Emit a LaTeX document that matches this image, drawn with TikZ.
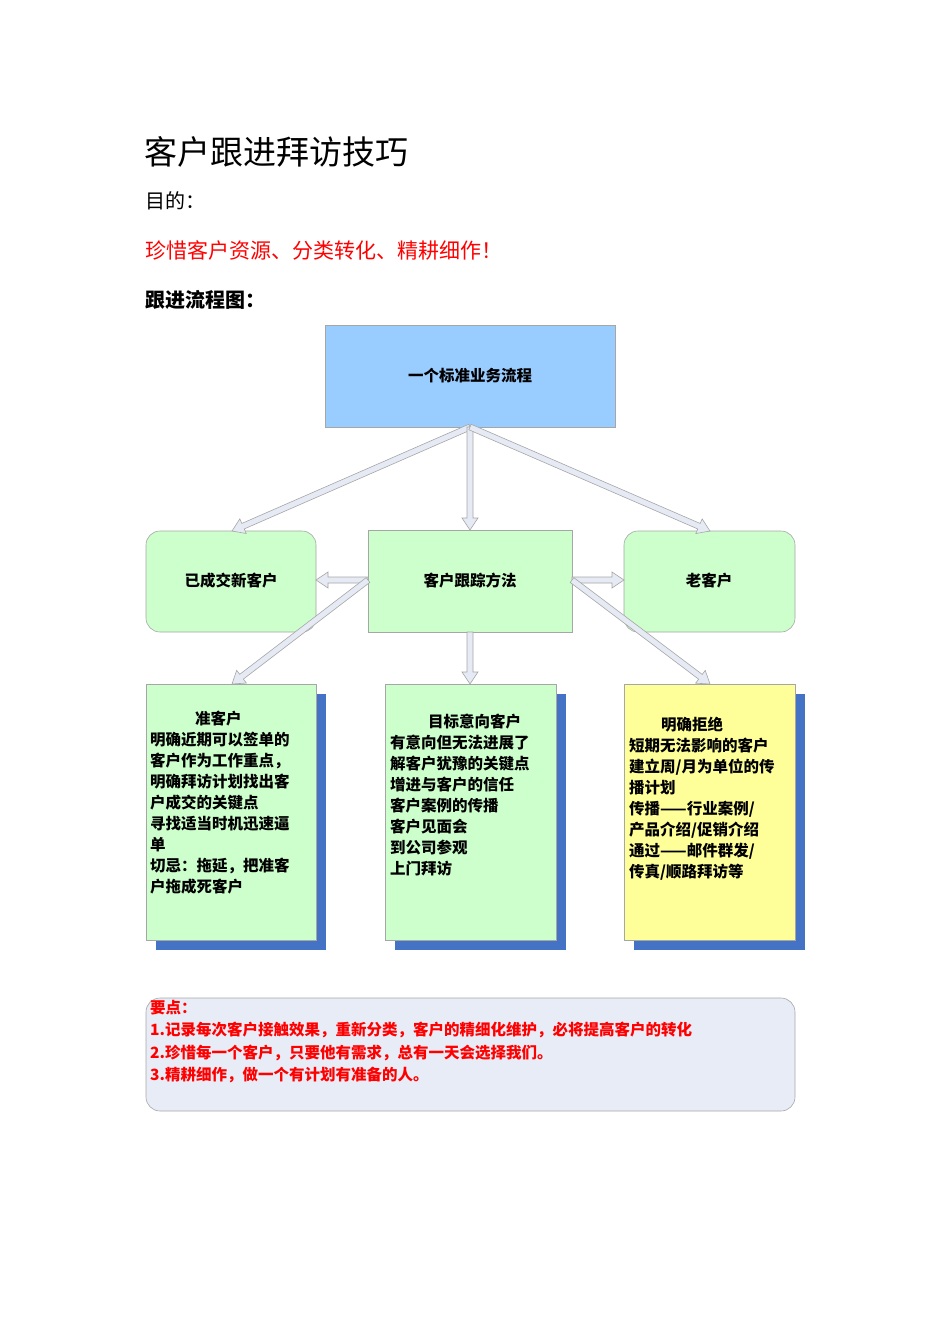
\documentclass[tikz,border=0pt]{standalone}
\usepackage{fontspec}
\setmainfont{Noto Sans CJK SC}
\newfontfamily\cjk{Noto Sans CJK SC}
\usetikzlibrary{calc}
\definecolor{topblue}{HTML}{99CCFF}
\definecolor{lgreen}{HTML}{CCFFCC}
\definecolor{lyellow}{HTML}{FFFF99}
\definecolor{shad}{HTML}{4472C4}
\definecolor{keyfill}{HTML}{E8ECF6}
\definecolor{arrfill}{HTML}{E6EAF4}
\newcommand\blockarrow[2]{%
  \path let \p1=(#1), \p2=(#2), \n1={atan2(\y2-\y1,\x2-\x1)}, \n2={veclen(\x2-\x1,\y2-\y1)} in
  [shift={(\x1,\y1)}, rotate=\n1]
  [draw=gray!70, fill=arrfill, line width=0.6pt]
  (0pt,3pt) -- (\n2-12pt,3pt) -- (\n2-12pt,8pt) -- (\n2,0pt) -- (\n2-12pt,-8pt) -- (\n2-12pt,-3pt) -- (0pt,-3pt) -- cycle;}
\tikzset{
  boxtxt/.style={font=\fontsize{15.5}{21}\selectfont\bfseries, inner sep=0pt},
  sq/.style={draw=gray!70, line width=0.6pt},
  rnd/.style={draw=gray!70, line width=0.6pt, rounded corners=14pt, fill=lgreen},
}
\begin{document}
\begin{tikzpicture}[x=1pt,y=-1pt]
\useasboundingbox (0,0) rectangle (950,1344);
\node[anchor=west, inner sep=0, font=\fontsize{33}{36}\selectfont] (title) at (144,152) {客户跟进拜访技巧};
\node[anchor=west, inner sep=0, font=\fontsize{20}{24}\selectfont] (goal) at (145,201) {目的：};
\node[anchor=west, inner sep=0, text=red, font=\fontsize{21}{24}\selectfont] (motto) at (145,250) {珍惜客户资源、分类转化、精耕细作！};
\node[anchor=west, inner sep=0, font=\fontsize{20}{24}\selectfont\bfseries] (flow) at (145,300) {跟进流程图：};
% top
\draw[sq, fill=topblue] (325,325) rectangle (615,427);
\node[boxtxt] (top) at (470,376) {一个标准业务流程};
% middle row
\draw[rnd] (146,531) rectangle (316,632);
\node[boxtxt] (done) at (231,581) {已成交新客户};
\draw[sq, fill=lgreen] (368,530) rectangle (572,632);
\node[boxtxt] (method) at (470,581) {客户跟踪方法};
\draw[rnd] (624,531) rectangle (795,632);
\node[boxtxt] (old) at (709,581) {老客户};
% bottom boxes
\fill[shad] (156,694) rectangle (326,950);
\draw[sq, fill=lgreen] (146,684) rectangle (316,940);
\node[boxtxt, anchor=north west, align=left] (prosp) at (150,711) {\hspace*{45pt}准客户\\明确近期可以签单的\\客户作为工作重点，\\明确拜访计划找出客\\户成交的关键点\\寻找适当时机迅速逼\\单\\切忌：拖延，把准客\\户拖成死客户};
\fill[shad] (395,694) rectangle (566,950);
\draw[sq, fill=lgreen] (385,684) rectangle (556,940);
\node[boxtxt, anchor=north west, align=left] (target) at (390,714) {\hspace*{38pt}目标意向客户\\有意向但无法进展了\\解客户犹豫的关键点\\增进与客户的信任\\客户案例的传播\\客户见面会\\到公司参观\\上门拜访};
\fill[shad] (634,694) rectangle (805,950);
\draw[sq, fill=lyellow] (624,684) rectangle (795,940);
\node[boxtxt, anchor=north west, align=left] (reject) at (629,717) {\hspace*{32pt}明确拒绝\\短期无法影响的客户\\建立周/月为单位的传\\播计划\\传播——行业案例/\\产品介绍/促销介绍\\通过——邮件群发/\\传真/顺路拜访等};
% arrow anchor coordinates
\coordinate (t0) at (470,427);
\coordinate (a1) at (232,531);
\coordinate (a2) at (470,530);
\coordinate (a3) at (710,531);
\coordinate (mL) at (368,580);
\coordinate (mR) at (572,580);
\coordinate (mB) at (470,632);
\coordinate (dR) at (316,580);
\coordinate (oL) at (624,580);
\coordinate (b1) at (232,684);
\coordinate (b2) at (470,684);
\coordinate (b3) at (710,684);
\blockarrow{t0}{a1}
\blockarrow{t0}{a2}
\blockarrow{t0}{a3}
\blockarrow{mL}{dR}
\blockarrow{mR}{oL}
\blockarrow{mL}{b1}
\blockarrow{mB}{b2}
\blockarrow{mR}{b3}
% key box
\draw[draw=gray!70, line width=0.6pt, rounded corners=14pt, fill=keyfill] (146,998) rectangle (795,1111);
\node[anchor=north west, align=left, text=red, inner sep=0pt, font=\fontsize{15.5}{22.5}\selectfont\bfseries] (key) at (150,1000) {要点：\\1.记录每次客户接触效果，重新分类，客户的精细化维护，必将提高客户的转化\\2.珍惜每一个客户，只要他有需求，总有一天会选择我们。\\3.精耕细作，做一个有计划有准备的人。};
\end{tikzpicture}
\end{document}
